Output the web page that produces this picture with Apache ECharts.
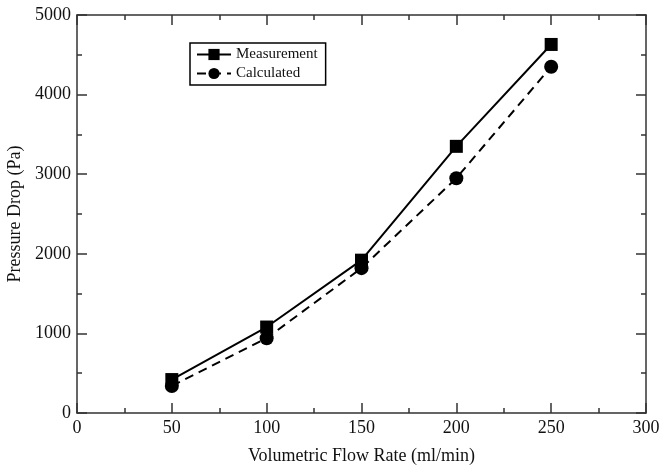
<!DOCTYPE html>
<html>
<head>
<meta charset="utf-8">
<script src="https://cdn.jsdelivr.net/npm/echarts@6/dist/echarts.min.js"></script>
<style>
  html, body { margin: 0; padding: 0; background: #fff; }
  #chart { width: 662px; height: 468px; }
</style>
</head>
<body>
<div id="chart"></div>
<script>
// data
const flowRates = [50, 100, 150, 200, 250];
const measured = [420, 1080, 1920, 3350, 4630];
const calculated = [340, 940, 1820, 2950, 4350];

const pairs = (xs, ys) => xs.map((x, i) => [x, ys[i]]);

const font = 'Liberation Serif';
const lineCol = '#000';

// common frame style; top / right copies only carry ticks
const tickAxis = {
  axisLine: { show: true, onZero: false, lineStyle: { color: '#333', width: 1.5 } },
  axisTick: { show: true, inside: true, length: 10, lineStyle: { color: '#333', width: 1.5 } },
  minorTick: { show: true, splitNumber: 2, length: 5, lineStyle: { color: '#333', width: 1.5 } },
  splitLine: { show: false },
  axisLabel: { show: false }
};

const labelStyle = { show: true, fontFamily: font, fontSize: 18, color: '#111', margin: 6, formatter: v => String(v) };

let myChart = echarts.init(document.getElementById('chart'));
let option = {
  animation: false,
  grid: { left: 77, right: 16, top: 15, bottom: 55, outerBoundsMode: 'none' },
  legend: {
    left: 190,
    top: 43,
    orient: 'vertical',
    itemGap: 4,
    itemWidth: 34,
    itemHeight: 14,
    padding: [4, 8, 4, 6],
    borderColor: '#000',
    borderWidth: 1.5,
    textStyle: { fontFamily: font, fontSize: 15, color: '#111' },
    data: ['Measurement', 'Calculated']
  },
  xAxis: [
    Object.assign({}, tickAxis, {
      type: 'value', min: 0, max: 300, interval: 50,
      name: 'Volumetric Flow Rate (ml/min)',
      nameLocation: 'middle', nameGap: 34,
      nameTextStyle: { fontFamily: font, fontSize: 18, color: '#111' },
      axisLabel: labelStyle
    }),
    Object.assign({}, tickAxis, { type: 'value', min: 0, max: 300, interval: 50, position: 'top' })
  ],
  yAxis: [
    Object.assign({}, tickAxis, {
      type: 'value', min: 0, max: 5000, interval: 1000,
      name: 'Pressure Drop (Pa)',
      nameLocation: 'middle', nameGap: 52,
      nameTextStyle: { fontFamily: font, fontSize: 18, color: '#111' },
      axisLabel: labelStyle
    }),
    Object.assign({}, tickAxis, { type: 'value', min: 0, max: 5000, interval: 1000, position: 'right' })
  ],
  series: [
    {
      name: 'Measurement',
      type: 'line',
      data: pairs(flowRates, measured),
      symbol: 'rect',
      symbolSize: 13,
      itemStyle: { color: lineCol },
      lineStyle: { color: lineCol, width: 2 }
    },
    {
      name: 'Calculated',
      type: 'line',
      data: pairs(flowRates, calculated),
      symbol: 'circle',
      symbolSize: 14,
      itemStyle: { color: lineCol },
      lineStyle: { color: lineCol, width: 2, type: [9, 6] }
    }
  ]
};
myChart.setOption(option);
</script>
</body>
</html>
